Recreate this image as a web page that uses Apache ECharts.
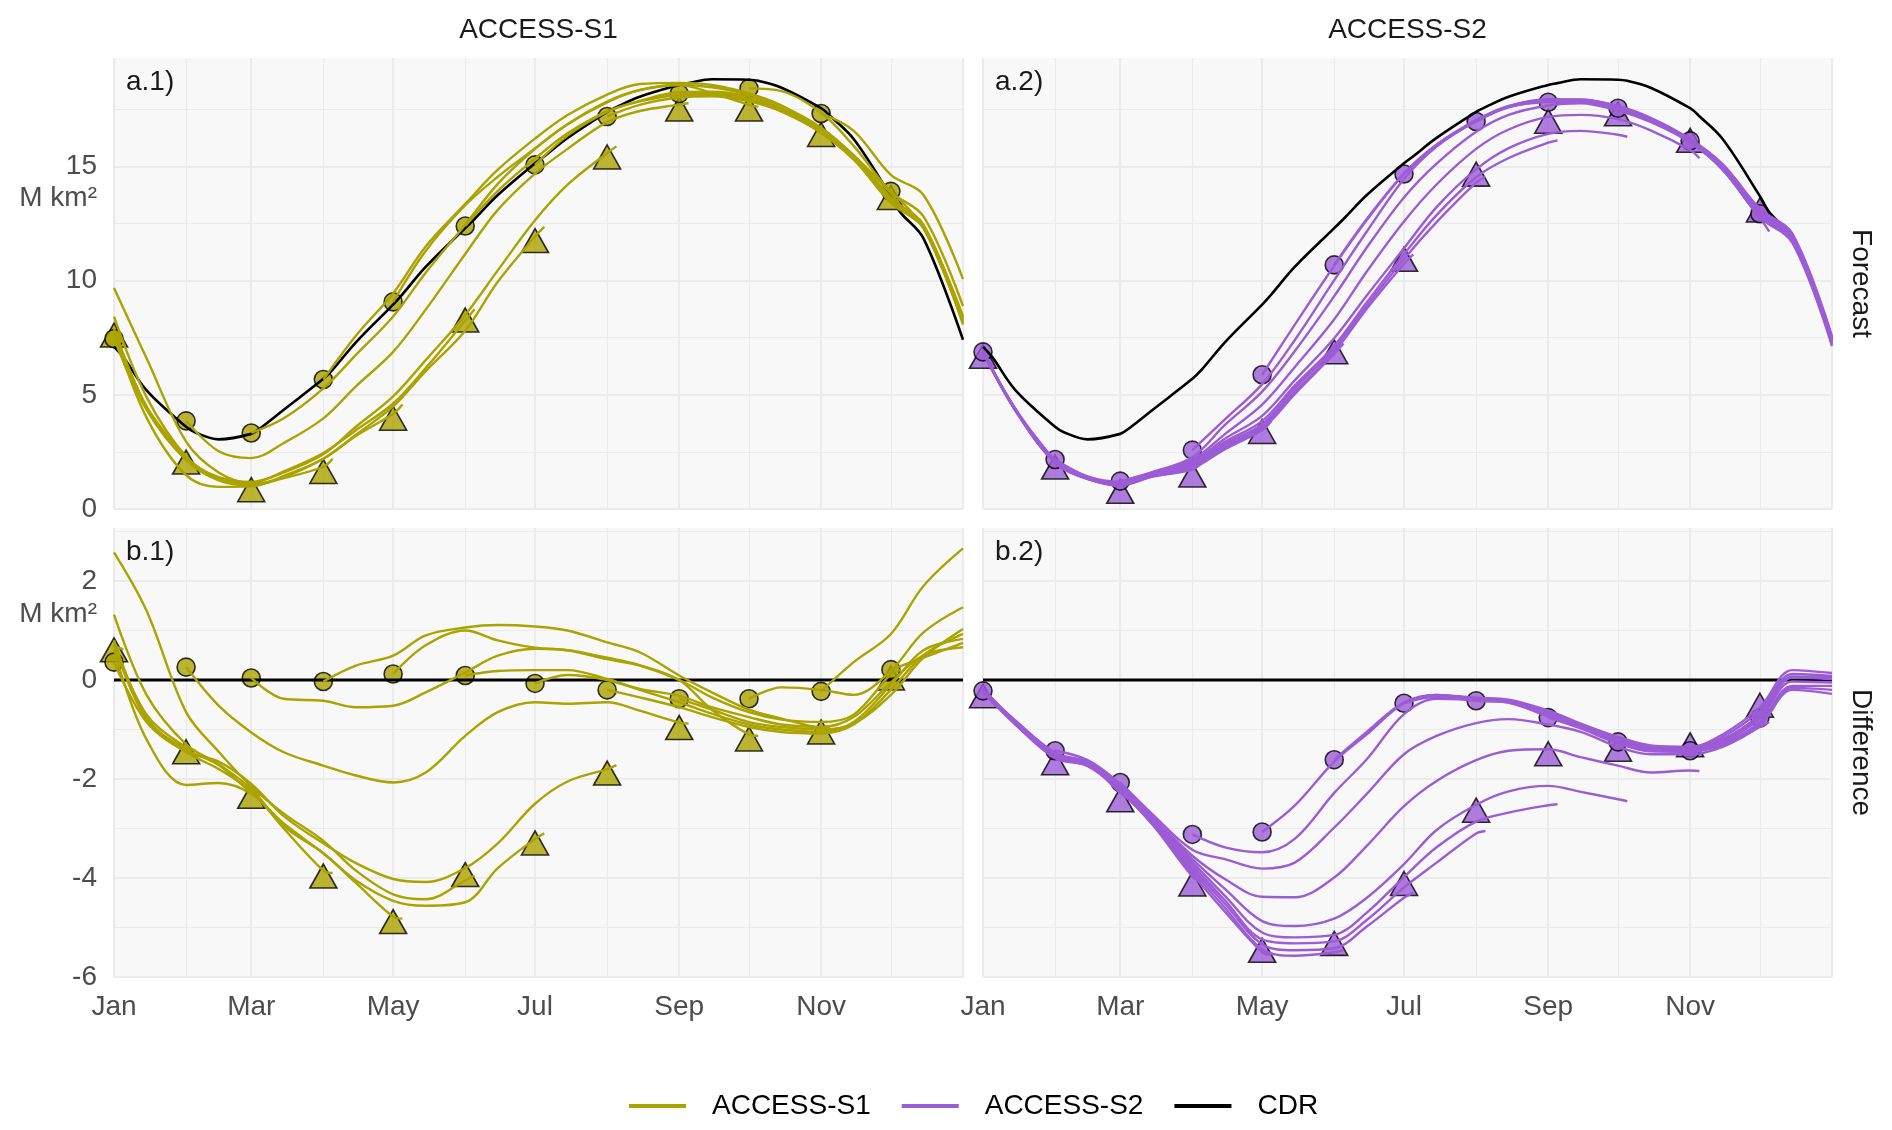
<!DOCTYPE html>
<html><head><meta charset="utf-8">
<script src="https://cdn.jsdelivr.net/npm/echarts@6/dist/echarts.min.js"></script>
<style>html,body{margin:0;padding:0;background:#fff}#c{width:1892px;height:1130px}</style>
</head><body><div id="c"></div>
<script>
const _ = null;
// sample days (day of year; 0 = 1 Jan, 365 = 1 Jan next year)
const days = [0,4,14,31,35,45,59,63,73,90,94,104,120,124,134,151,155,165,181,185,195,212,216,226,243,247,257,273,277,287,304,308,318,334,338,348,365];
const monthStartDays = [0,31,59,90,120,151,181,212,243,273,304,334,365];
const monthLabels = ['Jan','Feb','Mar','Apr','May','Jun','Jul','Aug','Sep','Oct','Nov','Dec','Jan'];
const labelDays = [0,59,120,181,243,304];
const majorDays = [0,59,120,181,243,304,365];
const modelNames = ['ACCESS-S1','ACCESS-S2'];
const panelTags = ['a.1)','a.2)','b.1)','b.2)'];
const rowNames = ['Forecast','Difference'];

// CDR extent (M km2)
const cdr = [7.1,6.65,5.2, 3.6,3.35,3.05, 3.29,3.55,4.35, 5.7,6.1,7.3, 8.95,9.4,10.6, 12.3,12.7,13.75, 15.14,15.45,16.25, 17.39,17.6,18.05, 18.57,18.65,18.82, 18.8,18.75,18.45, 17.55,17.2,16.2, 13.7,13.0,11.85, 7.41];

// ACCESS-S1 forecast minus CDR, one array per initialisation month
const s1Jan = [0.36,_,-0.85, -1.45,_,-1.65, -2.1,_,-2.75, -3.3,_,-3.7, -4.02,_,-4.08, -3.8,_,-3.3, -2.5,_,-2.05, -1.8,-1.72,_, _,_,_, _,_,_, _,_,_, _,_,_, _];
const s1Feb = [_,_,_, 0.26,_,-0.52, -1.06,_,-1.46, -1.73,_,-1.93, -2.07,_,-1.87, -1.13,_,-0.65, -0.45,_,-0.48, -0.45,_,-0.62, -0.86,-0.88,_, _,_,_, _,_,_, _,_,_, _];
const s1Mar = [_,_,_, _,_,_, 0.04,_,-0.38, -0.42,_,-0.55, -0.52,_,-0.25, 0.15,_,0.49, 0.63,_,0.6, 0.45,_,0.3, 0.0,_,-0.6, -1.1,-1.13,_, _,_,_, _,_,_, _];
const s1Apr = [_,_,_, _,_,_, _,_,_, -0.03,_,0.29, 0.49,_,0.9, 1.06,_,1.11, 1.08,_,1.0, 0.76,_,0.56, 0.09,_,-0.25, -0.6,_,-0.78, -0.97,-0.98,_, _,_,_, _];
const s1May = [_,_,_, _,_,_, _,_,_, _,_,_, 0.12,_,0.7, 1.0,_,0.8, 0.65,_,0.6, 0.42,_,0.29, 0.0,_,-0.35, -0.65,_,-0.8, -0.85,_,-0.7, 0.12,0.2,_, _];
const s1Jun = [0.69,0.62,_, _,_,_, _,_,_, _,_,_, _,_,_, 0.09,_,0.18, 0.2,_,0.2, 0.02,_,-0.18, -0.32,_,-0.55, -0.75,_,-0.9, -0.95,_,-0.75, -0.05,_,0.5, 0.66];
const s1Jul = [0.7,_,-0.7, -1.37,-1.42,_, _,_,_, _,_,_, _,_,_, _,_,_, -0.07,_,0.1, 0.0,_,-0.2, -0.45,_,-0.68, -0.9,_,-1.0, -1.05,_,-0.85, -0.1,_,0.6, 0.83];
const s1Aug = [0.72,_,-0.8, -1.4,_,-1.72, -2.27,-2.33,_, _,_,_, _,_,_, _,_,_, _,_,_, -0.2,_,-0.35, -0.55,_,-0.75, -0.95,_,-1.05, -1.08,_,-0.9, -0.2,_,0.5, 0.93];
const s1Sep = [0.8,_,-0.75, -1.45,_,-1.8, -2.25,_,-3.0, -3.85,-3.9,_, _,_,_, _,_,_, _,_,_, _,_,_, -0.38,_,-0.6, -0.85,_,-0.95, -1.0,_,-0.88, -0.3,_,0.45, 1.03];
const s1Oct = [1.32,_,-0.3, -1.3,_,-1.7, -2.2,_,-2.95, -3.5,_,-4.1, -4.78,-4.82,_, _,_,_, _,_,_, _,_,_, _,_,_, -0.38,_,-0.15, -0.2,_,-0.3, 0.19,_,0.96, 1.47];
const s1Nov = [2.58,_,1.4, -0.65,_,-1.45, -2.15,_,-2.7, -3.25,_,-3.85, -4.33,_,-4.43, -4.05,-3.95,_, _,_,_, _,_,_, _,_,_, _,_,_, -0.23,_,0.36, 0.93,_,1.9, 2.66];
const s1Dec = [0.6,_,-1.2, -2.12,_,-2.08, -2.3,_,-2.9, -3.5,_,-4.05, -4.46,_,-4.56, -4.49,_,-3.8, -3.21,-3.1,_, _,_,_, _,_,_, _,_,_, _,_,_, 0.21,_,0.45, 0.75];
const s1CircleDiff   = [0.36,0.26,0.04,-0.03,0.12,0.09,-0.07,-0.2,-0.38,-0.38,-0.23,0.21];
const s1TriangleDiff = [0.69,-1.37,-2.27,-3.88,-4.8,-3.85,-3.21,-1.8,-0.88,-1.11,-0.97,0.12];

// ACCESS-S2 forecast minus CDR
const s2Jan = [-0.22,_,-0.82, -1.47,_,-1.66, -2.14,_,-2.8, -3.62,_,-4.22, -4.87,_,-4.97, -4.82,_,-4.4, -3.72,_,-3.03, -2.52,_,-2.25, -2.14,_,-2.26, -2.41,-2.45,_, _,_,_, _,_,_, _];
const s2Feb = [_,_,_, -1.43,_,-1.62, -2.1,_,-2.77, -3.55,_,-4.02, -4.38,_,-4.39, -3.99,_,-3.35, -2.55,_,-2.04, -1.62,_,-1.43, -1.4,_,-1.56, -1.73,_,-1.87, -1.83,-1.84,_, _,_,_, _];
const s2Mar = [_,_,_, _,_,_, -2.07,_,-2.72, -3.43,_,-3.62, -3.81,_,-3.69, -2.98,_,-2.3, -1.5,_,-1.13, -0.87,_,-0.79, -0.9,_,-1.05, -1.35,_,-1.5, -1.5,_,-1.35, -0.95,-0.85,_, _];
const s2Apr = [-0.22,-0.4,_, _,_,_, _,_,_, -3.12,_,-3.38, -3.48,_,-3.21, -2.28,_,-1.6, -0.69,_,-0.38, -0.4,_,-0.43, -0.7,_,-0.95, -1.22,_,-1.4, -1.42,_,-1.22, -0.75,_,0.05, 0.05];
const s2May = [-0.18,_,-0.84, -1.5,-1.62,_, _,_,_, _,_,_, -3.07,_,-2.54, -1.65,_,-1.1, -0.47,_,-0.3, -0.36,_,-0.4, -0.62,_,-0.88, -1.15,_,-1.32, -1.35,_,-1.1, -0.55,_,0.2, 0.14];
const s2Jun = [-0.2,_,-0.86, -1.55,_,-1.7, -2.28,-2.42,_, _,_,_, _,_,_, -1.61,_,-1.05, -0.45,_,-0.3, -0.38,_,-0.42, -0.66,_,-0.9, -1.18,_,-1.35, -1.38,_,-1.15, -0.62,_,0.12, 0.08];
const s2Jul = [-0.24,_,-0.88, -1.57,_,-1.72, -2.25,_,-2.93, -3.97,-4.08,_, _,_,_, _,_,_, -0.47,_,-0.34, -0.42,_,-0.44, -0.7,_,-0.93, -1.22,_,-1.38, -1.4,_,-1.2, -0.7,_,0.05, 0.02];
const s2Aug = [-0.25,_,-0.9, -1.58,_,-1.74, -2.24,_,-2.91, -3.92,_,-4.68, -5.5,-5.55,_, _,_,_, _,_,_, -0.42,_,-0.46, -0.74,_,-0.96, -1.26,_,-1.42, -1.43,_,-1.25, -0.78,_,-0.03, -0.05];
const s2Sep = [-0.22,_,-0.9, -1.56,_,-1.73, -2.22,_,-2.89, -3.86,_,-4.6, -5.44,_,-5.57, -5.5,-5.45,_, _,_,_, _,_,_, -0.76,_,-0.98, -1.28,_,-1.44, -1.45,_,-1.28, -0.85,_,-0.12, -0.12];
const s2Oct = [-0.2,_,-0.88, -1.54,_,-1.72, -2.2,_,-2.87, -3.8,_,-4.52, -5.34,_,-5.46, -5.42,_,-4.98, -4.4,-4.3,_, _,_,_, _,_,_, -1.25,_,-1.4, -1.43,_,-1.3, -0.88,_,-0.16, -0.2];
const s2Nov = [-0.18,_,-0.85, -1.52,_,-1.7, -2.18,_,-2.85, -3.74,_,-4.45, -5.24,_,-5.32, -5.28,_,-4.85, -4.19,_,-3.69, -3.1,-3.05,_, _,_,_, _,_,_, -1.43,_,-1.33, -0.92,_,-0.2, -0.28];
const s2Dec = [-0.21,_,-0.84, -1.5,_,-1.68, -2.16,_,-2.83, -3.68,_,-4.36, -5.1,_,-5.2, -5.15,_,-4.7, -3.98,_,-3.38, -2.86,_,-2.68, -2.53,-2.51,_, _,_,_, _,_,_, -0.77,_,0.07, 0.05];
const s2CircleDiff   = [-0.22,-1.43,-2.07,-3.12,-3.07,-1.61,-0.47,-0.42,-0.76,-1.25,-1.43,-0.77];
const s2TriangleDiff = [-0.24,-1.59,-2.34,-4.04,-5.38,-5.24,-4.03,-2.55,-1.41,-1.32,-1.23,-0.43];

const s1Lines = [s1Jan,s1Feb,s1Mar,s1Apr,s1May,s1Jun,s1Jul,s1Aug,s1Sep,s1Oct,s1Nov,s1Dec];
const s2Lines = [s2Jan,s2Feb,s2Mar,s2Apr,s2May,s2Jun,s2Jul,s2Aug,s2Sep,s2Oct,s2Nov,s2Dec];

// ---------- styling / layout ----------
const FONT = 'Liberation Sans, Arial, Helvetica, sans-serif';
const COL = {'ACCESS-S1':'#ABA300','ACCESS-S2':'#9B5CD5','CDR':'#000000'};
const GRIDC = '#EBEBEB';
const L = [114, 983], W = 849;
const T = [58, 528], H = [451, 449];
const dayCats = Array.from({length: 366}, (_v, i) => String(i));

function segments(vals, addCdr) {
  const pts = [];
  days.forEach((d, i) => { if (vals[i] !== null) pts.push([d, addCdr ? cdr[i] + vals[i] : vals[i]]); });
  const segs = []; let cur = [];
  pts.forEach((p, j) => {
    if (j > 0 && p[0] - pts[j - 1][0] > 20) { segs.push(cur); cur = []; }
    cur.push(p);
  });
  if (cur.length) segs.push(cur);
  return segs;
}

const grids = [], xAxes = [], yAxes = [], series = [];
for (let g = 0; g < 4; g++) {
  const col = g % 2, row = Math.floor(g / 2);
  grids.push({left: L[col], top: T[row], width: W, height: H[row], show: true,
    backgroundColor: '#F8F8F8', borderWidth: 0, containLabel: false});
  const xb = {type: 'category', gridIndex: g, position: 'bottom', data: dayCats, boundaryGap: false,
    axisLine: {show: false}, axisTick: {show: false}};
  xAxes.push(Object.assign({}, xb, {axisLabel: {show: false},
    splitLine: {show: true, interval: (i) => monthStartDays.includes(i), lineStyle: {color: GRIDC, width: 1.1}}}));
  xAxes.push(Object.assign({}, xb, {
    axisLabel: row === 1 ? {show: true, interval: (i) => labelDays.includes(i),
      formatter: (v) => monthLabels[monthStartDays.indexOf(+v)], margin: 16,
      fontSize: 28, color: '#4D4D4D', fontFamily: FONT} : {show: false},
    splitLine: {show: true, interval: (i) => majorDays.includes(i), lineStyle: {color: GRIDC, width: 2}}}));
  const ext = row === 0 ? {min: 0, max: 19.75} : {min: -6, max: 3.07};
  const yb = Object.assign({type: 'value', gridIndex: g, position: 'left',
    axisLine: {show: false}, axisTick: {show: false}}, ext);
  yAxes.push(Object.assign({}, yb, {interval: row === 0 ? 2.5 : 1, axisLabel: {show: false},
    splitLine: {show: true, showMaxLine: false, lineStyle: {color: GRIDC, width: 1.1}}}));
  yAxes.push(Object.assign({}, yb, {interval: row === 0 ? 5 : 2,
    axisLabel: col === 0 ? {show: true, showMaxLabel: false, margin: 17, fontSize: 28,
      color: '#4D4D4D', fontFamily: FONT} : {show: false},
    splitLine: {show: true, showMaxLine: false, lineStyle: {color: GRIDC, width: 2}}}));
}

function addLine(name, g, data, width) {
  series.push({type: 'line', name: name, xAxisIndex: 2 * g + 1, yAxisIndex: 2 * g + 1,
    data: data, smooth: 0.35, symbol: 'none', showSymbol: false, color: COL[name],
    lineStyle: {color: COL[name], width: width}, itemStyle: {color: COL[name]},
    silent: true, animation: false, emphasis: {disabled: true}});
}
function addMarkers(name, g, vals, addCdr, shape) {
  const data = monthStartDays.slice(0, 12).map((d, k) =>
    [d, addCdr ? cdr[days.indexOf(d)] + vals[k] : vals[k]]);
  series.push({type: 'scatter', name: name + (shape === 'circle' ? ' start' : ' lead'),
    xAxisIndex: 2 * g + 1, yAxisIndex: 2 * g + 1, data: data, symbol: shape,
    symbolSize: shape === 'circle' ? 18 : [27, 24], symbolOffset: shape === 'circle' ? [0, 0] : [0, 4],
    itemStyle: {color: COL[name], borderColor: '#000', borderWidth: 1.6},
    silent: true, animation: false, emphasis: {disabled: true}});
}

// CDR lines first (underneath)
for (let g = 0; g < 4; g++) {
  const top = g < 2;
  addLine('CDR', g, days.map((d, i) => [d, top ? cdr[i] : cdr[i] - cdr[i]]), top ? 2.6 : 3);
}
[[s1Lines, 'ACCESS-S1', 0], [s2Lines, 'ACCESS-S2', 1]].forEach(([lines, name, col]) => {
  lines.forEach((vals) => {
    segments(vals, true).forEach((seg) => addLine(name, col, seg, 2.4));
    segments(vals, false).forEach((seg) => addLine(name, col + 2, seg, 2.4));
  });
});
[[s1CircleDiff, s1TriangleDiff, 'ACCESS-S1', 0], [s2CircleDiff, s2TriangleDiff, 'ACCESS-S2', 1]].forEach(([c, t, name, col]) => {
  addMarkers(name, col, t, true, 'triangle');
  addMarkers(name, col, c, true, 'circle');
  addMarkers(name, col + 2, t, false, 'triangle');
  addMarkers(name, col + 2, c, false, 'circle');
});

const txt = (x, y, text, opts) => ({type: 'text', x: x, y: y, silent: true, rotation: opts.rot || 0,
  style: {text: text, fontSize: 28, fontFamily: FONT, fill: opts.fill || '#1A1A1A',
    align: opts.align || 'left', verticalAlign: 'middle'}});
const graphics = [
  txt(L[0] + W / 2, 30, modelNames[0], {align: 'center'}),
  txt(L[1] + W / 2, 30, modelNames[1], {align: 'center'}),
  txt(1861, T[0] + H[0] / 2, rowNames[0], {align: 'center', rot: -Math.PI / 2}),
  txt(1861, T[1] + H[1] / 2, rowNames[1], {align: 'center', rot: -Math.PI / 2}),
  txt(L[0] + 12, 82, panelTags[0], {}),
  txt(L[1] + 12, 82, panelTags[1], {}),
  txt(L[0] + 12, 552, panelTags[2], {}),
  txt(L[1] + 12, 552, panelTags[3], {}),
  txt(97, 198, 'M km²', {align: 'right', fill: '#4D4D4D'}),
  txt(97, 614, 'M km²', {align: 'right', fill: '#4D4D4D'})
];

const chart = echarts.init(document.getElementById('c'), null, {renderer: 'canvas'});
chart.setOption({
  animation: false,
  backgroundColor: '#FFFFFF',
  grid: grids, xAxis: xAxes, yAxis: yAxes, series: series,
  legend: {left: 629, top: 1092, padding: 0, itemGap: 31, itemWidth: 57, itemHeight: 4,
    selectedMode: false,
    data: [{name: 'ACCESS-S1', icon: 'rect'}, {name: 'ACCESS-S2', icon: 'rect'}, {name: 'CDR', icon: 'rect'}],
    textStyle: {fontSize: 28, fontFamily: FONT, color: '#000', padding: [0, 0, 0, 21]}},
  graphic: graphics
});
</script></body></html>
